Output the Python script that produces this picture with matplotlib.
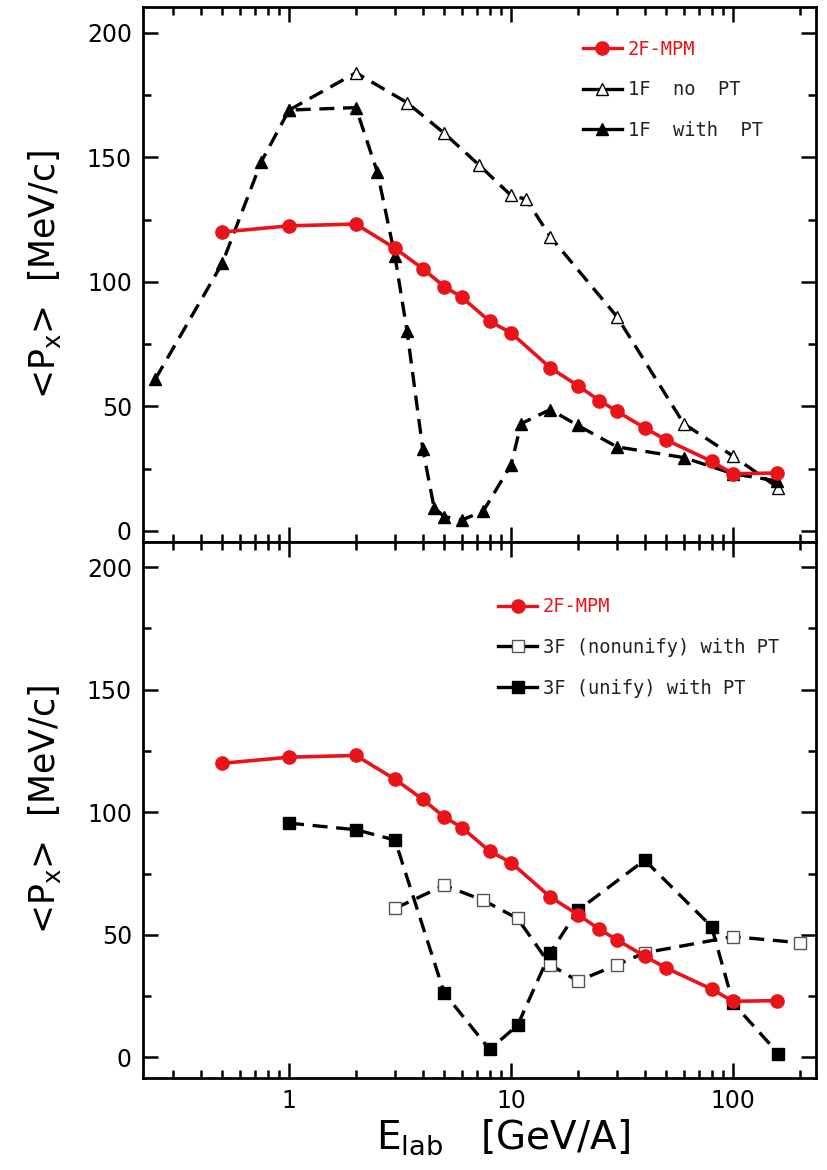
import numpy as np
import matplotlib
matplotlib.use("Agg")
import matplotlib.pyplot as plt
from matplotlib.lines import Line2D
from matplotlib.ticker import LogLocator, MultipleLocator, FixedLocator, NullFormatter

# data
e_mpm = [0.5, 1, 2, 3, 4, 5, 6, 8, 10, 15, 20, 25, 30, 40, 50, 80, 100, 158]
px_mpm = [120, 122.5, 123.2, 113.5, 105.3, 98.1, 93.8, 84.2, 79.5, 65.5, 58.3,
          52.3, 48, 41.3, 36.5, 27.9, 22.9, 23.2]

e_nopt = [1, 2, 3.4, 5, 7.2, 10, 11.7, 15, 30, 60, 100, 160]
px_nopt = [169, 184, 172, 159.7, 146.8, 134.7, 133.2, 118.2, 86, 43, 30, 17.2]

e_pt = [0.25, 0.5, 0.75, 1, 2, 2.5, 3, 3.4, 4, 4.5, 5, 6, 7.5, 10, 11.1, 15, 20,
        30, 60, 100, 158]
px_pt = [61, 107.4, 148.3, 169, 170, 144, 110.3, 80.2, 33, 9.3, 5.7, 4.3, 7.9,
         26.5, 43, 48.7, 42.3, 33.7, 29.4, 22.9, 20]

e_nonuni = [3, 5, 7.5, 10.7, 15, 20, 30, 40, 100, 200]
px_nonuni = [60.8, 70.2, 64.1, 56.7, 37.8, 31.2, 37.8, 42.7, 49.3, 46.8]

e_uni = [1, 2, 3, 5, 8, 10.7, 15, 20, 40, 80, 100, 160]
px_uni = [95.6, 92.9, 88.7, 26.3, 3.3, 13.1, 42.7, 60, 80.5, 53.4, 22.2, 1.6]

red = "#e8141a"
dash = (0, (4.5, 2.6))

fig = plt.figure(figsize=(8.27, 11.7), dpi=100)
ax1 = fig.add_axes([0.173, 0.537, 0.814, 0.457])
ax2 = fig.add_axes([0.173, 0.079, 0.814, 0.458])


def style_axis(ax, ylo):
    ax.set_xscale("log")
    ax.set_xlim(0.22, 237)
    ax.set_ylim(ylo, 210.4)
    ax.yaxis.set_major_locator(MultipleLocator(50))
    ax.yaxis.set_minor_locator(MultipleLocator(25))
    ax.xaxis.set_major_locator(FixedLocator([1, 10, 100]))
    ax.xaxis.set_minor_locator(LogLocator(base=10, subs=np.arange(2, 10), numticks=20))
    ax.xaxis.set_minor_formatter(NullFormatter())
    ax.tick_params(which="both", direction="in", top=True, right=True, width=1.8)
    ax.tick_params(which="major", length=11, labelsize=17, pad=8)
    ax.tick_params(which="minor", length=6)
    for s in ax.spines.values():
        s.set_linewidth(2)
    ax.set_ylabel(r"<P$_{\rm x}$>  [MeV/c]", fontsize=25, labelpad=17)


def handle(mk, face, edge):
    # legend keys are short solid strokes through the marker
    return Line2D([], [], color=edge if face != "white" else "black", lw=2.4,
                  marker=mk, ms=8.5 if mk != "o" else 9.5, mfc=face, mec=edge, mew=1)


def legend(ax, handles, labels, anchor):
    leg = ax.legend(handles, labels, loc="upper left", bbox_to_anchor=anchor,
                    frameon=False, prop={"family": "DejaVu Sans Mono", "size": 13.5},
                    handlelength=2.1, handletextpad=0.3, labelspacing=1.15,
                    borderaxespad=0)
    leg.get_texts()[0].set_color(red)
    for t in leg.get_texts()[1:]:
        t.set_color("#222222")


# top panel
ax1.plot(e_nopt, px_nopt, color="black", ls=dash, lw=2.4, marker="^", ms=8,
         mfc="white", mec="black", mew=1, zorder=2)
ax1.plot(e_pt, px_pt, color="black", ls=dash, lw=2.4, marker="^", ms=8,
         mfc="black", mec="black", zorder=3)
ax1.plot(e_mpm, px_mpm, color=red, lw=2.6, marker="o", ms=9.5, zorder=4)
style_axis(ax1, -4.4)
ax1.tick_params(labelbottom=False)
legend(ax1, [handle("o", red, red), handle("^", "white", "black"),
             handle("^", "black", "black")],
       ["2F-MPM", "1F  no  PT", "1F  with  PT"], (0.642, 0.953))

# bottom panel
ax2.plot(e_mpm, px_mpm, color=red, lw=2.6, marker="o", ms=9.5, zorder=4)
ax2.plot(e_nonuni, px_nonuni, color="black", ls=dash, lw=2.4, marker="s", ms=8.5,
         mfc="white", mec="#555555", mew=1, zorder=2)
ax2.plot(e_uni, px_uni, color="black", ls=dash, lw=2.4, marker="s", ms=8.5,
         mfc="black", mec="black", zorder=3)
style_axis(ax2, -8.2)
ax2.set_xticklabels(["1", "10", "100"])
ax2.set_xlabel(r"E$_{\rm lab}$   [GeV/A]", fontsize=28, labelpad=3)
ax2.xaxis.set_label_coords(0.535, -0.075)
legend(ax2, [handle("o", red, red), handle("s", "white", "#555555"),
             handle("s", "black", "black")],
       ["2F-MPM", "3F (nonunify) with PT", "3F (unify) with PT"], (0.516, 0.91))

fig.savefig("out.png", dpi=100)
